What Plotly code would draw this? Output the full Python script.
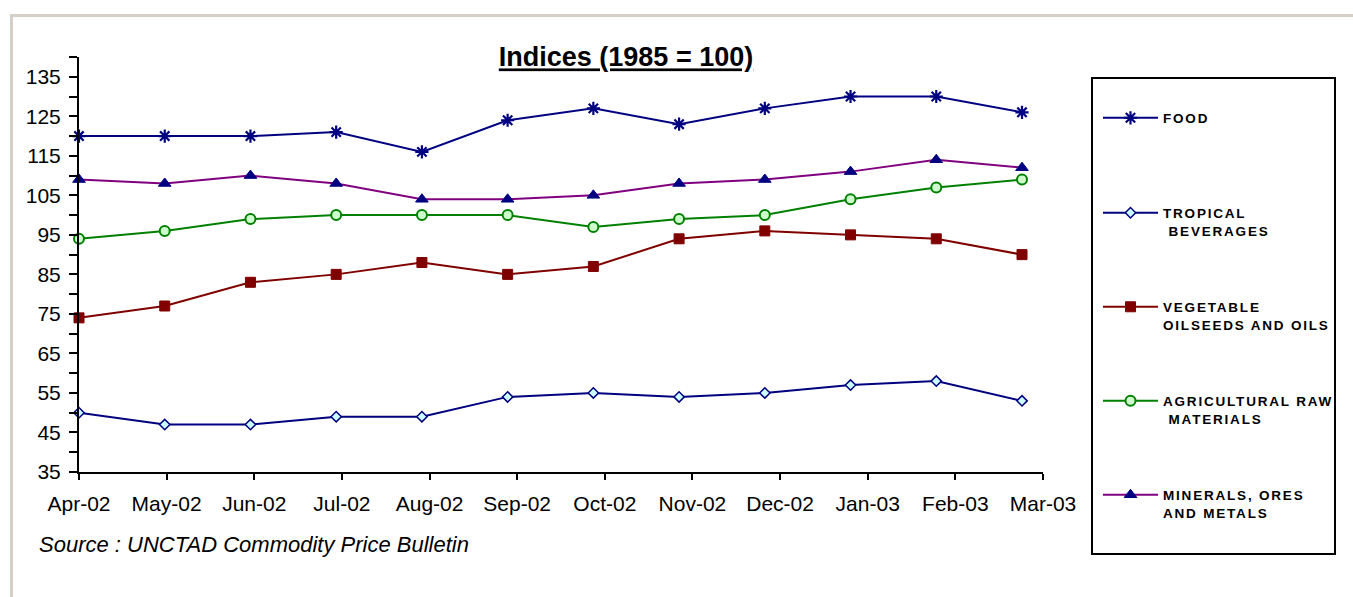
import plotly.graph_objects as go

months = ["Apr-02", "May-02", "Jun-02", "Jul-02", "Aug-02", "Sep-02",
          "Oct-02", "Nov-02", "Dec-02", "Jan-03", "Feb-03", "Mar-03"]
food = [120, 120, 120, 121, 116, 124, 127, 123, 127, 130, 130, 126]
tropical_beverages = [50, 47, 47, 49, 49, 54, 55, 54, 55, 57, 58, 53]
vegetable_oils = [74, 77, 83, 85, 88, 85, 87, 94, 96, 95, 94, 90]
agricultural_raw = [94, 96, 99, 100, 100, 100, 97, 99, 100, 104, 107, 109]
minerals_ores = [109, 108, 110, 108, 104, 104, 105, 108, 109, 111, 114, 112]

W, H = 1353, 597
PL, PR, PT, PB = 79, 1043, 57, 472  # plot area in pixels


def px2x(px):
    return (px - PL) / (PR - PL)


def py2y(py):
    return (PB - py) / (PB - PT)


FONT = "Arial, Liberation Sans, sans-serif"
xs = list(range(len(months)))
XMAX = 11.245
tickpos = [i * XMAX / 11 for i in range(len(months))]

series = [
    ("FOOD", food, "#000080",
     dict(symbol="asterisk-open", size=11, color="#000080", line=dict(color="#000080", width=2.2))),
    ("TROPICAL<br> BEVERAGES", tropical_beverages, "#000080",
     dict(symbol="diamond", size=8, color="#ccffff", line=dict(color="#000080", width=1.5))),
    ("VEGETABLE<br>OILSEEDS AND OILS", vegetable_oils, "#800000",
     dict(symbol="square", size=10, color="#800000", line=dict(color="#800000", width=1))),
    ("AGRICULTURAL RAW<br> MATERIALS", agricultural_raw, "#008000",
     dict(symbol="circle", size=10, color="#ccffcc", line=dict(color="#008000", width=2))),
    ("MINERALS, ORES<br>AND METALS", minerals_ores, "#800080",
     dict(symbol="triangle-up", size=11, color="#000080", line=dict(color="#000080", width=1))),
]

legend_centers = [118, 222, 316, 410, 504]


def spaced(txt):
    return "<br>".join('<span style="letter-spacing:1.8px">' + part + "</span>"
                       for part in txt.split("<br>"))


fig = go.Figure()
layout_legends = {}
for i, (name, vals, lc, mk) in enumerate(series):
    lg = "legend" if i == 0 else f"legend{i + 1}"
    fig.add_trace(go.Scatter(
        x=xs, y=vals, name=spaced(name), mode="lines+markers",
        line=dict(color=lc, width=2), marker=mk, cliponaxis=False,
        legend=lg,
    ))
    layout_legends[lg] = dict(
        x=px2x(1098), xanchor="left",
        y=py2y(legend_centers[i]), yanchor="middle",
        bgcolor="rgba(0,0,0,0)", borderwidth=0,
        valign="top", itemwidth=55,
        font=dict(family=FONT, size=13.5, color="black", weight="bold"),
    )

fig.update_layout(
    width=W, height=H, autosize=False,
    margin=dict(l=PL, r=W - PR, t=PT, b=H - PB, pad=0),
    paper_bgcolor="white", plot_bgcolor="white",
    showlegend=True,
    title=dict(text="<b>Indices (1985 = 100)</b>", x=626 / W, xanchor="center",
               xref="container", yref="container", y=1 - 57 / H, yanchor="middle",
               font=dict(family=FONT, size=27, color="black", lineposition="under")),
    xaxis=dict(range=[0, XMAX], tickmode="array", tickvals=tickpos, ticktext=months,
               showgrid=False, zeroline=False, showline=True, linecolor="black", linewidth=2,
               ticks="outside", ticklen=6, tickwidth=2, tickcolor="black",
               ticklabelstandoff=6,
               tickfont=dict(family=FONT, size=21, color="black")),
    yaxis=dict(range=[35, 140], tick0=35, dtick=10, tickmode="linear",
               showgrid=False, zeroline=False, showline=True, linecolor="black", linewidth=2,
               ticks="outside", ticklen=8, tickwidth=1.5, tickcolor="black",
               minor=dict(ticks="outside", tick0=40, dtick=10, ticklen=8, tickwidth=1.5, tickcolor="black"),
               ticklabelstandoff=4,
               tickfont=dict(family=FONT, size=21, color="black")),
    annotations=[dict(text="<i>Source : UNCTAD Commodity Price Bulletin</i>",
                      x=px2x(37), y=py2y(544), xref="paper", yref="paper",
                      xanchor="left", yanchor="middle", showarrow=False,
                      font=dict(family=FONT, size=22, color="black"))],
    shapes=[
        dict(type="rect", xref="paper", yref="paper",
             x0=px2x(11.5), x1=px2x(1380), y0=py2y(15.5), y1=py2y(620),
             line=dict(color="#d4d0c8", width=3), fillcolor="rgba(0,0,0,0)", layer="below"),
        dict(type="rect", xref="paper", yref="paper",
             x0=px2x(1092), x1=px2x(1335), y0=py2y(78), y1=py2y(554),
             line=dict(color="black", width=2), fillcolor="rgba(0,0,0,0)"),
    ],
    **layout_legends,
)

fig.write_html("out.html", config={"displayModeBar": False},
               post_script="document.body.style.margin='0';document.body.style.overflow='hidden';")
